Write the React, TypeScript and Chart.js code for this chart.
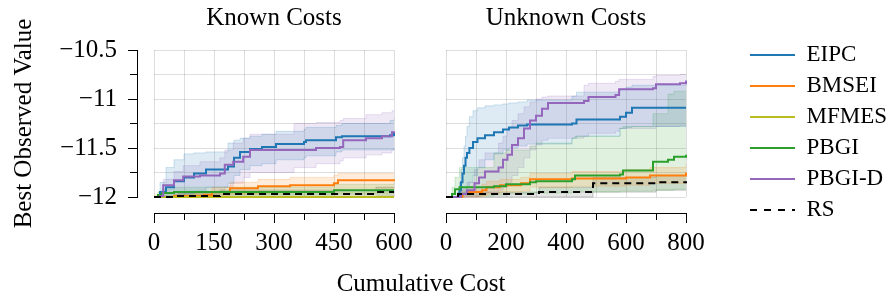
import React, { useEffect, useRef } from 'react';
import { Chart, registerables } from 'chart.js';

Chart.register(...registerables);

const FONT = "'Liberation Serif', 'Times New Roman', serif";
const GRID = 'rgba(0,0,0,0.13)';

const methods = ['EIPC', 'BMSEI', 'MFMES', 'PBGI', 'PBGI-D', 'RS'];
const methodColors = ['#1f77b4', '#ff7f0e', '#bcbd22', '#2ca02c', '#9467bd', '#000000'];

const panelTitles = ['Known Costs', 'Unknown Costs'];
const yAxisTitle = 'Best Observed Value';
const xAxisTitle = 'Cumulative Cost';

// ---------- Known Costs ----------
const knownEipcCost = [0, 15, 30, 50, 75, 100, 130, 185, 200, 215, 240, 270, 305, 375, 380, 455, 470, 590, 600];
const knownEipcMean = [-12, -11.95, -11.9, -11.84, -11.8, -11.76, -11.72, -11.69, -11.6, -11.54, -11.51, -11.49, -11.46, -11.44, -11.42, -11.39, -11.38, -11.37, -11.34];
const knownEipcHi = [-12, -11.85, -11.7, -11.62, -11.56, -11.55, -11.54, -11.45, -11.42, -11.4, -11.38, -11.36, -11.33, -11.31, -11.29, -11.27, -11.25, -11.22, -11.2];
const knownEipcLo = [-12, -12, -12, -11.99, -11.97, -11.94, -11.9, -11.86, -11.78, -11.72, -11.68, -11.66, -11.62, -11.6, -11.58, -11.54, -11.52, -11.52, -11.5];

const knownBmseiCost = [0, 50, 125, 145, 190, 260, 340, 450, 460, 600];
const knownBmseiMean = [-12, -11.99, -11.98, -11.95, -11.91, -11.89, -11.88, -11.86, -11.83, -11.82];
const knownBmseiHi = [-12, -11.97, -11.95, -11.9, -11.85, -11.82, -11.8, -11.78, -11.76, -11.76];
const knownBmseiLo = [-12, -12, -12, -11.99, -11.97, -11.96, -11.95, -11.94, -11.91, -11.9];

const knownMfmesCost = [0, 100, 300, 600];
const knownMfmesMean = [-12, -12, -12, -12];
const knownMfmesHi = [-11.98, -11.96, -11.95, -11.95];
const knownMfmesLo = [-12, -12, -12, -12];

const knownPbgiCost = [0, 10, 20, 50, 450, 600];
const knownPbgiMean = [-12, -11.98, -11.96, -11.95, -11.93, -11.93];
const knownPbgiHi = [-12, -11.95, -11.92, -11.9, -11.87, -11.86];
const knownPbgiLo = [-12, -12, -11.99, -11.98, -11.97, -11.97];

const knownPbgidCost = [0, 15, 23, 50, 73, 115, 165, 177, 198, 223, 240, 350, 405, 465, 473, 530, 570, 595, 600];
const knownPbgidMean = [-12, -11.99, -11.88, -11.83, -11.79, -11.78, -11.76, -11.67, -11.64, -11.59, -11.52, -11.52, -11.5, -11.49, -11.42, -11.4, -11.38, -11.34, -11.33];
const knownPbgidHi = [-12, -11.95, -11.82, -11.74, -11.68, -11.64, -11.6, -11.52, -11.45, -11.4, -11.36, -11.25, -11.24, -11.22, -11.2, -11.16, -11.14, -11.12, -11.12];
const knownPbgidLo = [-12, -12, -12, -12, -12, -11.98, -11.95, -11.9, -11.86, -11.8, -11.75, -11.7, -11.66, -11.63, -11.6, -11.57, -11.55, -11.52, -11.5];

const knownRsCost = [0, 60, 165, 555, 600];
const knownRsMean = [-12, -11.99, -11.97, -11.95, -11.95];
const knownRsHi = [-12, -11.96, -11.93, -11.9, -11.9];
const knownRsLo = [-12, -12, -12, -11.99, -11.99];

// ---------- Unknown Costs ----------
const unkEipcCost = [0, 40, 45, 50, 55, 60, 65, 70, 78, 90, 105, 130, 160, 190, 210, 240, 270, 420, 435, 580, 600, 620, 800];
const unkEipcMean = [-12, -11.98, -11.93, -11.85, -11.76, -11.68, -11.6, -11.55, -11.5, -11.44, -11.4, -11.37, -11.34, -11.31, -11.29, -11.27, -11.26, -11.25, -11.21, -11.18, -11.14, -11.09, -11.09];
const unkEipcHi = [-12, -11.95, -11.85, -11.72, -11.6, -11.48, -11.38, -11.28, -11.18, -11.12, -11.09, -11.07, -11.06, -11.05, -11.04, -11.03, -11.01, -10.97, -10.93, -10.9, -10.88, -10.86, -10.84];
const unkEipcLo = [-12, -12, -12, -12, -11.99, -11.97, -11.94, -11.9, -11.85, -11.78, -11.7, -11.62, -11.56, -11.52, -11.5, -11.48, -11.46, -11.4, -11.38, -11.3, -11.29, -11.28, -11.27];

const unkBmseiCost = [0, 50, 55, 70, 120, 135, 180, 250, 280, 420, 600, 680, 800];
const unkBmseiMean = [-12, -12, -11.97, -11.95, -11.93, -11.9, -11.88, -11.86, -11.82, -11.81, -11.8, -11.78, -11.75];
const unkBmseiHi = [-12, -12, -11.93, -11.9, -11.87, -11.84, -11.82, -11.8, -11.76, -11.74, -11.72, -11.7, -11.66];
const unkBmseiLo = [-12, -12, -12, -12, -11.99, -11.97, -11.95, -11.94, -11.9, -11.89, -11.88, -11.86, -11.84];

const unkPbgiCost = [0, 20, 30, 45, 160, 200, 280, 300, 420, 430, 580, 590, 690, 740, 760, 800];
const unkPbgiMean = [-12, -11.97, -11.92, -11.9, -11.89, -11.87, -11.85, -11.84, -11.82, -11.78, -11.77, -11.73, -11.64, -11.62, -11.59, -11.57];
const unkPbgiHi = [-12, -11.9, -11.8, -11.7, -11.55, -11.52, -11.48, -11.45, -11.4, -11.38, -11.3, -11.28, -11.15, -10.95, -10.92, -10.92];
const unkPbgiLo = [-12, -12, -12, -11.99, -11.98, -11.97, -11.96, -11.96, -11.95, -11.95, -11.94, -11.94, -11.93, -11.93, -11.92, -11.92];

const unkPbgidCost = [0, 45, 50, 70, 95, 110, 130, 175, 190, 205, 220, 240, 260, 280, 300, 320, 340, 460, 475, 565, 577, 690, 700, 780, 800];
const unkPbgidMean = [-12, -12, -11.97, -11.93, -11.86, -11.8, -11.74, -11.7, -11.62, -11.57, -11.47, -11.4, -11.3, -11.22, -11.17, -11.1, -11.04, -11.02, -10.98, -10.96, -10.9, -10.89, -10.85, -10.84, -10.81];
const unkPbgidHi = [-12, -12, -11.92, -11.85, -11.72, -11.62, -11.55, -11.45, -11.38, -11.3, -11.22, -11.15, -11.08, -11.03, -11.0, -10.98, -10.97, -10.86, -10.84, -10.82, -10.8, -10.77, -10.76, -10.75, -10.75];
const unkPbgidLo = [-12, -12, -12, -12, -12, -11.98, -11.96, -11.93, -11.9, -11.85, -11.78, -11.7, -11.6, -11.52, -11.47, -11.42, -11.4, -11.38, -11.35, -11.33, -11.3, -11.3, -11.28, -11.27, -11.27];

const unkRsCost = [0, 40, 310, 490, 700, 800];
const unkRsMean = [-12, -11.97, -11.95, -11.86, -11.85, -11.84];
const unkRsHi = [-12, -11.95, -11.9, -11.8, -11.78, -11.78];
const unkRsLo = [-12, -12, -12, -11.95, -11.93, -11.93];

// axis ranges and ticks
const yMin = -12;
const yMax = -10.5;
const knownXMax = 600;
const unkXMax = 800;
const knownXLabelCount = 5; // 0,150,...,600
const unkXLabelCount = 5;   // 0,200,...,800
const xMinorCount = 9;
const yMinorCount = 7;
const yLabelCount = 4;      // -12,-11.5,-11,-10.5

type Series = { name: string; cost: number[]; mean: number[]; hi: number[]; lo: number[] };

const knownSeries: Series[] = [
  { name: 'EIPC', cost: knownEipcCost, mean: knownEipcMean, hi: knownEipcHi, lo: knownEipcLo },
  { name: 'BMSEI', cost: knownBmseiCost, mean: knownBmseiMean, hi: knownBmseiHi, lo: knownBmseiLo },
  { name: 'MFMES', cost: knownMfmesCost, mean: knownMfmesMean, hi: knownMfmesHi, lo: knownMfmesLo },
  { name: 'PBGI', cost: knownPbgiCost, mean: knownPbgiMean, hi: knownPbgiHi, lo: knownPbgiLo },
  { name: 'PBGI-D', cost: knownPbgidCost, mean: knownPbgidMean, hi: knownPbgidHi, lo: knownPbgidLo },
  { name: 'RS', cost: knownRsCost, mean: knownRsMean, hi: knownRsHi, lo: knownRsLo },
];

const unknownSeries: Series[] = [
  { name: 'EIPC', cost: unkEipcCost, mean: unkEipcMean, hi: unkEipcHi, lo: unkEipcLo },
  { name: 'BMSEI', cost: unkBmseiCost, mean: unkBmseiMean, hi: unkBmseiHi, lo: unkBmseiLo },
  { name: 'PBGI', cost: unkPbgiCost, mean: unkPbgiMean, hi: unkPbgiHi, lo: unkPbgiLo },
  { name: 'PBGI-D', cost: unkPbgidCost, mean: unkPbgidMean, hi: unkPbgidHi, lo: unkPbgidLo },
  { name: 'RS', cost: unkRsCost, mean: unkRsMean, hi: unkRsHi, lo: unkRsLo },
];

function rgba(hex: string, a: number) {
  const n = parseInt(hex.slice(1), 16);
  return `rgba(${(n >> 16) & 255},${(n >> 8) & 255},${n & 255},${a})`;
}

function pts(xs: number[], ys: number[]) {
  return xs.map((x, i) => ({ x, y: ys[i] }));
}

function buildDatasets(series: Series[]) {
  const ds: any[] = [];
  const common = { stepped: true, pointRadius: 0, pointHoverRadius: 0, xAxisID: 'x', yAxisID: 'y', clip: 4 };
  series.forEach((s) => {
    const col = methodColors[methods.indexOf(s.name)];
    const band = s.name === 'RS' ? 0.1 : 0.15;
    const loIndex = ds.length + 1;
    ds.push({ ...common, label: s.name + ' upper', data: pts(s.cost, s.hi), fill: loIndex,
      backgroundColor: rgba(col, band), borderColor: rgba(col, 0.2), borderWidth: 1, order: 20 });
    ds.push({ ...common, label: s.name + ' lower', data: pts(s.cost, s.lo), fill: false,
      backgroundColor: rgba(col, 0), borderColor: rgba(col, 0.2), borderWidth: 1, order: 20 });
  });
  series.forEach((s) => {
    const ci = methods.indexOf(s.name);
    ds.push({ ...common, label: s.name, data: pts(s.cost, s.mean), fill: false,
      borderColor: methodColors[ci], backgroundColor: methodColors[ci], borderWidth: 2,
      borderDash: s.name === 'RS' ? [7, 5] : [], order: 10 - ci });
  });
  return ds;
}

const tickFont = { family: FONT, size: 25 };

function xScales(xMax: number, labelCount: number) {
  return {
    x: {
      type: 'linear', axis: 'x', position: 'bottom', min: 0, max: xMax, weight: 0,
      ticks: { display: false, count: xMinorCount, autoSkip: false },
      grid: { display: true, drawOnChartArea: true, drawTicks: false, color: GRID, lineWidth: 1 },
      border: { display: false },
      afterFit: (s: any) => { s.height = 16; },
    },
    xMinor: {
      type: 'linear', axis: 'x', position: 'bottom', min: 0, max: xMax, weight: 1,
      ticks: { display: false, count: xMinorCount, autoSkip: false },
      grid: { display: true, drawOnChartArea: false, drawTicks: true, tickLength: 7, tickColor: '#000', tickWidth: 1, color: '#000' },
      border: { display: false },
      afterFit: (s: any) => { s.height = 0; },
    },
    xMajor: {
      type: 'linear', axis: 'x', position: 'bottom', min: 0, max: xMax, weight: 2,
      ticks: { display: true, count: labelCount, autoSkip: false, maxRotation: 0, minRotation: 0, padding: 5, color: '#000', font: tickFont },
      grid: { display: true, drawOnChartArea: false, drawTicks: true, tickLength: 10, tickColor: '#000', tickWidth: 1, color: '#000' },
      border: { display: true, color: '#000', width: 1 },
      afterFit: (s: any) => { s.height = 85; },
    },
  };
}

function titlePlugin(text: string) {
  return {
    display: true, text, fullSize: false, color: '#000',
    font: { family: FONT, size: 25, weight: 'normal' },
    padding: { top: 3, bottom: 17 },
  };
}

export default function App() {
  const leftRef = useRef<HTMLCanvasElement | null>(null);
  const rightRef = useRef<HTMLCanvasElement | null>(null);

  useEffect(() => {
    document.body.style.margin = '0';
    const left = new Chart(leftRef.current as HTMLCanvasElement, {
      type: 'line',
      data: { datasets: buildDatasets(knownSeries) },
      options: {
        responsive: false, maintainAspectRatio: false, animation: false, events: [],
        layout: { padding: { left: 0, right: 26, top: 0, bottom: 0 } },
        plugins: { legend: { display: false }, tooltip: { enabled: false }, title: titlePlugin(panelTitles[0]) as any },
        scales: {
          ...xScales(knownXMax, knownXLabelCount),
          y: {
            type: 'linear', axis: 'y', position: 'left', min: yMin, max: yMax, weight: 0,
            ticks: { display: false, count: yMinorCount },
            grid: { display: true, drawOnChartArea: true, drawTicks: false, color: GRID, lineWidth: 1 },
            border: { display: false },
            afterFit: (s: any) => { s.width = 17; },
          },
          yMinor: {
            type: 'linear', axis: 'y', position: 'left', min: yMin, max: yMax, weight: 1,
            ticks: { display: false, count: yMinorCount },
            grid: { display: true, drawOnChartArea: false, drawTicks: true, tickLength: 7, tickColor: '#000', color: '#000' },
            border: { display: false },
            afterFit: (s: any) => { s.width = 0; },
          },
          yMajor: {
            type: 'linear', axis: 'y', position: 'left', min: yMin, max: yMax, weight: 2,
            ticks: {
              display: true, count: yLabelCount, padding: 11, color: '#000', font: tickFont,
              callback: (v: any) => { const n = Number(v); return (n < 0 ? '\u2212' : '') + String(Math.abs(n)); },
            },
            grid: { display: true, drawOnChartArea: false, drawTicks: true, tickLength: 9, tickColor: '#000', color: '#000' },
            border: { display: true, color: '#000', width: 1 },
            title: { display: true, text: yAxisTitle, color: '#000', font: tickFont, padding: { top: 9, bottom: 0 } },
            afterFit: (s: any) => { s.width = 137; },
          },
        } as any,
      },
    });

    const right = new Chart(rightRef.current as HTMLCanvasElement, {
      type: 'line',
      data: { datasets: buildDatasets(unknownSeries) },
      options: {
        responsive: false, maintainAspectRatio: false, animation: false, events: [],
        layout: { padding: { left: 26, right: 0, top: 0, bottom: 0 } },
        plugins: {
          tooltip: { enabled: false },
          title: titlePlugin(panelTitles[1]) as any,
          legend: {
            display: true, position: 'right', align: 'start', maxWidth: 149,
            title: { display: true, text: '', font: { size: 10 }, padding: { top: 23.5, bottom: 0 } },
            labels: {
              usePointStyle: true, pointStyleWidth: 45, padding: 8, color: '#000',
              font: { family: FONT, size: 23 },
              generateLabels: () => methods.map((m, i) => ({
                text: m, fillStyle: methodColors[i], strokeStyle: methodColors[i], fontColor: '#000',
                lineWidth: 2, lineDash: m === 'RS' ? [7, 7] : [], pointStyle: 'line', hidden: false,
                datasetIndex: i,
              })),
            },
          } as any,
        },
        scales: {
          ...xScales(unkXMax, unkXLabelCount),
          y: {
            type: 'linear', axis: 'y', position: 'left', min: yMin, max: yMax, weight: 0,
            ticks: { display: false, count: yMinorCount },
            grid: { display: true, drawOnChartArea: true, drawTicks: false, color: GRID, lineWidth: 1 },
            border: { display: false },
            afterFit: (s: any) => { s.width = 0; },
          },
          yPad: {
            type: 'linear', axis: 'y', position: 'right', min: 0, max: 1, weight: 0,
            ticks: { display: false },
            grid: { display: false },
            border: { display: false },
            afterFit: (s: any) => { s.width = 56; },
          },
        } as any,
      },
    });

    return () => { left.destroy(); right.destroy(); };
  }, []);

  return (
    <div style={{ position: 'relative', width: 891, height: 298, overflow: 'hidden', background: '#fff' }}>
      <canvas ref={leftRef} width={420} height={298} style={{ position: 'absolute', left: 0, top: 0 }} />
      <canvas ref={rightRef} width={471} height={298} style={{ position: 'absolute', left: 420, top: 0 }} />
      <div style={{ position: 'absolute', left: 0, top: 270, width: 842, textAlign: 'center', fontFamily: FONT, fontSize: 25, lineHeight: '25px', color: '#000' }}>
        {xAxisTitle}
      </div>
    </div>
  );
}
